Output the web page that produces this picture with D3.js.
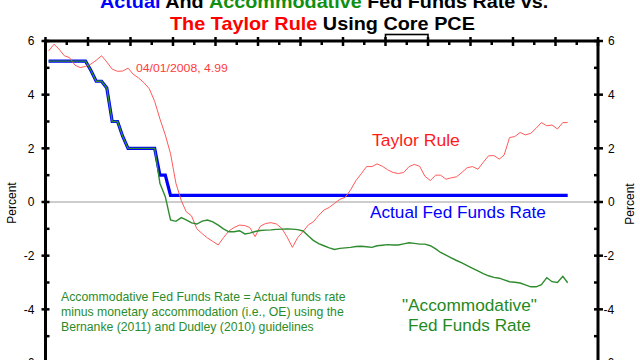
<!DOCTYPE html>
<html><head><meta charset="utf-8">
<script src="https://cdn.jsdelivr.net/npm/d3@7/dist/d3.min.js"></script>
<style>html,body{margin:0;padding:0;background:#fff;overflow:hidden}svg{display:block}text{font-family:Arial,"Liberation Sans",sans-serif}</style>
</head><body>
<svg id="c" width="640" height="360"></svg>
<script>
// ---- data (monthly, Jan 2007 .. Mar 2015) ----
const startMonth = "2007-01", endMonth = "2015-04";
const actual = [5.25,5.25,5.25,5.25,5.25,5.25,5.25,5.25,4.9,4.5,
 4.5,4.25,3.0,3.0,2.45,2.0,2.0,2.0,2.0,2.0,
 2.0,1.0,1.0,0.25,0.25,0.25,0.25,0.25,0.25,0.25,
 0.25,0.25,0.25,0.25,0.25,0.25,0.25,0.25,0.25,0.25,
 0.25,0.25,0.25,0.25,0.25,0.25,0.25,0.25,0.25,0.25,
 0.25,0.25,0.25,0.25,0.25,0.25,0.25,0.25,0.25,0.25,
 0.25,0.25,0.25,0.25,0.25,0.25,0.25,0.25,0.25,0.25,
 0.25,0.25,0.25,0.25,0.25,0.25,0.25,0.25,0.25,0.25,
 0.25,0.25,0.25,0.25,0.25,0.25,0.25,0.25,0.25,0.25,
 0.25,0.25,0.25,0.25,0.25,0.25,0.25,0.25,0.25];
const accommodative = [5.25,5.25,5.25,5.25,5.25,5.25,5.25,5.25,4.9,4.5,
 4.5,4.25,3.0,3.0,2.45,2.0,2.0,2.0,2.0,2.0,
 2.0,0.70,0.20,-0.67,-0.72,-0.58,-0.67,-0.78,-0.82,-0.71,
 -0.67,-0.74,-0.86,-1.00,-1.11,-1.11,-1.07,-1.19,-1.16,-1.10,
 -1.06,-1.05,-1.04,-1.02,-1.01,-1.00,-1.01,-1.03,-1.08,-1.27,
 -1.43,-1.55,-1.63,-1.71,-1.77,-1.73,-1.71,-1.69,-1.66,-1.65,
 -1.67,-1.69,-1.63,-1.61,-1.59,-1.60,-1.60,-1.56,-1.52,-1.54,
 -1.57,-1.57,-1.63,-1.75,-1.88,-1.98,-2.08,-2.18,-2.27,-2.37,
 -2.47,-2.57,-2.67,-2.75,-2.81,-2.84,-2.90,-2.97,-2.99,-3.02,
 -3.09,-3.16,-3.16,-3.08,-2.82,-2.97,-3.00,-2.77,-3.01];
const taylor = [5.63,5.88,5.70,5.45,5.38,5.10,5.01,5.05,5.14,5.28,
 5.45,5.22,4.95,4.87,4.88,4.99,4.76,4.62,4.45,4.22,
 3.75,3.10,2.50,1.80,0.70,0.05,-0.36,-0.52,-1.00,-1.18,
 -1.34,-1.47,-1.60,-1.33,-1.08,-0.95,-0.86,-0.88,-0.95,-1.29,
 -0.90,-0.80,-0.77,-0.82,-0.98,-1.30,-1.69,-1.33,-1.10,-0.85,
 -0.74,-0.50,-0.30,-0.20,-0.05,0.10,0.18,0.45,0.80,1.05,
 1.32,1.32,1.42,1.33,1.20,1.10,1.06,1.10,1.32,1.40,
 1.33,0.96,0.80,1.00,1.00,0.85,0.90,0.94,1.10,1.28,
 1.32,1.22,1.48,1.72,1.73,1.60,1.75,2.40,2.44,2.59,
 2.50,2.56,2.75,2.96,2.84,2.87,2.72,2.96,2.96];
const yTicks = [-6,-4,-2,0,2,4,6];
const yMinor = [-5,-3,-1,1,3,5];
const annotation = {date:"04/01/2008", value:4.99};

// ---- layout ----
const svg = d3.select("#c");
const X0 = 45.5, X1 = 598, YT = 41;
const parse = d3.timeParse("%Y-%m");
const months = d3.timeMonth.range(parse(startMonth), parse(endMonth));
const x = d3.scaleTime().domain([new Date(2006,11,14), new Date(2015,7,22)]).range([X0, X1]);
const y = d3.scaleLinear().domain([-6, 6]).range([363, YT]);
const tickIdx = d3.scaleLinear().domain([0, 26]).range([X0, X1]);

function rows(vals){ return vals.map((v,i)=>({d:months[i], v})); }
const line = d3.line().x(d=>x(d.d)).y(d=>y(d.v));

// zero line
svg.append("line").attr("x1",X0).attr("x2",X1).attr("y1",y(0)).attr("y2",y(0))
  .attr("stroke","#9a9a9a").attr("stroke-width",1);

// series
svg.append("path").datum(rows(actual)).attr("d",line).attr("fill","none")
  .attr("stroke","#0000ff").attr("stroke-width",3.2).attr("stroke-linejoin","miter");
svg.append("path").datum(rows(taylor)).attr("d",line).attr("fill","none")
  .attr("stroke","#ff5a5a").attr("stroke-width",1);
svg.append("path").datum(rows(accommodative)).attr("d",line).attr("fill","none")
  .attr("stroke","#2e8b2e").attr("stroke-width",1.4);

// axes
const ax = svg.append("g").attr("stroke","#000");
ax.append("line").attr("x1",X0).attr("x2",X0).attr("y1",YT-1).attr("y2",360).attr("stroke-width",3);
ax.append("line").attr("x1",X1).attr("x2",X1).attr("y1",YT-1).attr("y2",360).attr("stroke-width",3);
ax.append("line").attr("x1",X0-1.5).attr("x2",X1+1.5).attr("y1",YT).attr("y2",YT).attr("stroke-width",3);
yTicks.forEach(t=>{
  ax.append("line").attr("x1",X0-4).attr("x2",X0+4).attr("y1",y(t)).attr("y2",y(t)).attr("stroke-width",2.5);
  ax.append("line").attr("x1",X1-4).attr("x2",X1+5).attr("y1",y(t)).attr("y2",y(t)).attr("stroke-width",2.5);
});
yMinor.forEach(t=>{
  ax.append("line").attr("x1",X0).attr("x2",X0+4).attr("y1",y(t)).attr("y2",y(t)).attr("stroke-width",2.5);
  ax.append("line").attr("x1",X1-4).attr("x2",X1).attr("y1",y(t)).attr("y2",y(t)).attr("stroke-width",2.5);
});
d3.range(0,27).forEach(i=>{
  const major = i%2===0;
  ax.append("line").attr("x1",tickIdx(i)).attr("x2",tickIdx(i))
    .attr("y1",major?YT-4:YT).attr("y2",major?YT+5:YT+4).attr("stroke-width",2.5);
});
// bracket box on top axis
ax.append("rect").attr("x",tickIdx(16)).attr("y",YT-6.5).attr("width",tickIdx(18)-tickIdx(16)).attr("height",6.5)
  .attr("fill","none").attr("stroke-width",1.6);

// tick labels
const lab = svg.append("g").attr("font-size",12).attr("fill","#000");
yTicks.forEach(t=>{
  lab.append("text").attr("x",34.5).attr("y",y(t)+4.3).attr("text-anchor","end").text(t);
  lab.append("text").attr("x",t<0?603.5:608).attr("y",y(t)+4.3).text(t);
});
lab.append("text").attr("transform","translate(16,203) rotate(-90)").attr("text-anchor","middle").text("Percent");
lab.append("text").attr("transform","translate(634,204) rotate(-90)").attr("text-anchor","middle").text("Percent");

function fit(sel, w){
  const n = sel.node(); const L = n.getComputedTextLength();
  const s = w / L; const x0 = +sel.attr("x");
  sel.attr("transform", `translate(${x0},0) scale(${s},1) translate(${-x0},0)`);
}

// title
const t1 = svg.append("text").attr("x",100).attr("y",8).attr("font-size",18).attr("font-weight","bold");
t1.append("tspan").attr("fill","#0000ff").text("Actual");
t1.append("tspan").attr("fill","#000").text(" And ");
t1.append("tspan").attr("fill","#109010").text("Accommodative");
t1.append("tspan").attr("fill","#000").text(" Fed Funds Rate vs.");
fit(t1, 448);
const t2 = svg.append("text").attr("x",170).attr("y",30).attr("font-size",18).attr("font-weight","bold");
t2.append("tspan").attr("fill","#ff0000").text("The Taylor Rule");
t2.append("tspan").attr("fill","#000").text(" Using Core PCE");
fit(t2, 305);

// annotations
const a = svg.append("text").attr("x",136).attr("y",72.5).attr("font-size",11).attr("fill","#ff3b3b")
  .text(`${annotation.date}, ${annotation.value}`);
fit(a, 92);
fit(svg.append("text").attr("x",372).attr("y",146).attr("font-size",17).attr("fill","#ff1a1a").text("Taylor Rule"), 88);
fit(svg.append("text").attr("x",370).attr("y",218.5).attr("font-size",17).attr("fill","#0000ff").text("Actual Fed Funds Rate"), 176);
fit(svg.append("text").attr("x",402).attr("y",311.5).attr("font-size",17).attr("fill","#1f8a1f").text("\"Accommodative\""), 135);
fit(svg.append("text").attr("x",408).attr("y",331.5).attr("font-size",17).attr("fill","#1f8a1f").text("Fed Funds Rate"), 123);
const notes = ["Accommodative Fed Funds Rate = Actual funds rate",
  "minus monetary accommodation (i.e., OE) using the",
  "Bernanke (2011) and Dudley (2010) guidelines"];
const noteW = [285, 283, 253];
notes.forEach((s,i)=>{
  fit(svg.append("text").attr("x",61).attr("y",301.5+15*i).attr("font-size",12).attr("fill","#2b8c2b").text(s), noteW[i]);
});
</script>
</body></html>
